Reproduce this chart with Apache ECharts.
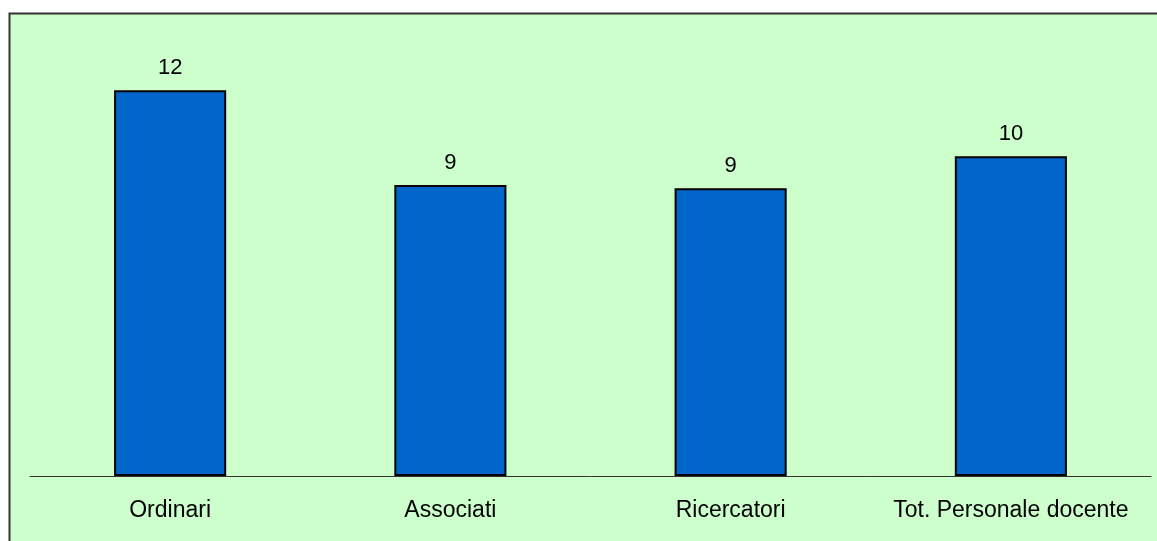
<!DOCTYPE html>
<html>
<head>
<meta charset="utf-8">
<script src="https://cdn.jsdelivr.net/npm/echarts@6/dist/echarts.min.js"></script>
<style>
html,body{margin:0;padding:0;background:#fff;}
#c{width:1157px;height:541px;}
</style>
</head>
<body>
<div id="c"></div>
<script>
const categories = ["Ordinari", "Associati", "Ricercatori", "Tot. Personale docente"];
const values = [12, 9.05, 8.95, 9.95];

const chart = echarts.init(document.getElementById('c'));
chart.setOption({
  animation: false,
  backgroundColor: '#ffffff',
  graphic: [{
    type: 'rect',
    z: -10,
    silent: true,
    shape: {x: 9.5, y: 13.5, width: 1160, height: 540},
    style: {fill: '#CCFFCC', stroke: '#333333', lineWidth: 2}
  }],
  grid: {left: 30, right: 6, top: 26, bottom: 65},
  xAxis: {
    type: 'category',
    data: categories,
    axisLine: {lineStyle: {color: '#333333', width: 1}},
    axisTick: {show: false},
    axisLabel: {interval: 0, hideOverlap: false, color: '#000', fontFamily: 'Liberation Sans, Arial, sans-serif', fontSize: 23, margin: 23}
  },
  yAxis: {
    type: 'value',
    min: 0, max: 14,
    show: false,
    splitLine: {show: false}
  },
  series: [{
    type: 'bar',
    data: values,
    barWidth: '40%',
    itemStyle: {color: '#0066CC', borderColor: '#000', borderWidth: 2},
    label: {
      show: true, position: 'top', distance: 11,
      color: '#000', fontFamily: 'Liberation Sans, Arial, sans-serif', fontSize: 22,
      formatter: p => Math.round(p.value)
    }
  }]
});
</script>
</body>
</html>
